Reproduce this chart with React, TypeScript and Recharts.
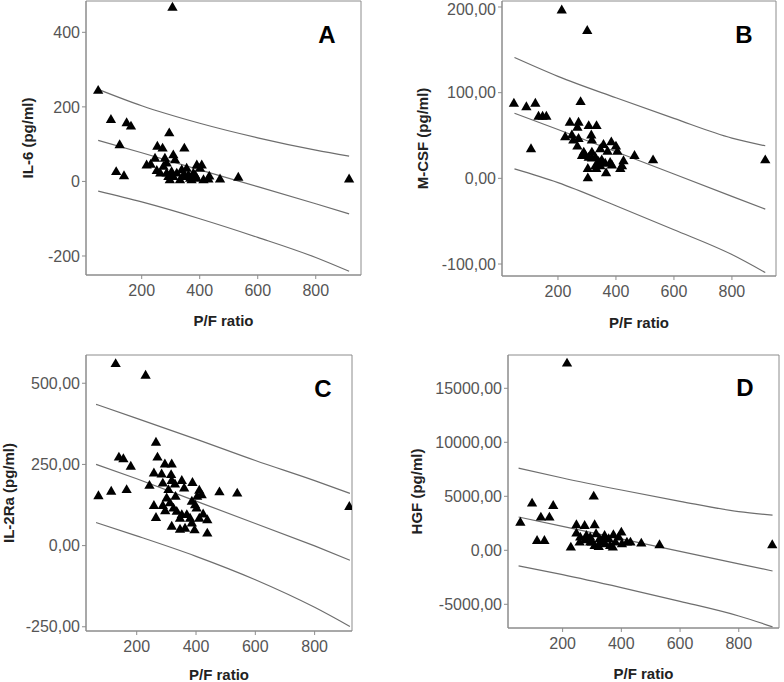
import { ComposedChart, Scatter, Line, XAxis, YAxis, ZAxis, ReferenceArea } from 'recharts';

const FONT = '"Liberation Sans", Arial, sans-serif';

// P/F ratio axis ticks, shared by all panels
const pfTicks = [200, 400, 600, 800];

// Panel A - IL-6
const aPF = [306, 50, 94, 148, 163, 124, 112, 139, 295, 254, 272, 347, 217, 231, 246, 280, 309, 315, 252, 275, 286, 292, 303, 321, 338, 355, 361, 378, 390, 407, 401, 332, 372, 390, 413, 430, 433, 470, 533, 915, 309, 344, 264, 286, 297, 350, 384, 367];
const aIL6 = [466, 243, 165, 156, 147, 97, 25, 14, 129, 93, 88, 88, 43, 45, 61, 61, 70, 57, 28, 39, 48, 12, 25, 21, 30, 34, 16, 21, 43, 43, 34, 3, 3, 7, 3, 5, 13, 5, 10, 5, 12, 16, 21, 21, 3, 12, 16, 7];
const aFitX = [50, 200, 400, 600, 800, 915];
const aUpper = [247, 203, 156, 117, 84, 68];
const aMid = [110, 77, 31, -14, -60, -87];
const aLower = [-26, -55, -100, -150, -204, -241];
const aTicks = [-200, 0, 200, 400];

// Panel B - M-CSF
const bPF = [213, 301, 48, 91, 122, 133, 147, 160, 107, 278, 241, 271, 267, 306, 333, 225, 248, 253, 271, 315, 317, 267, 283, 294, 306, 317, 329, 346, 357, 371, 384, 400, 405, 340, 351, 363, 380, 386, 303, 303, 332, 366, 329, 346, 415, 421, 426, 464, 528, 915, 317, 289];
const bMCSF = [196, 172, 87, 83, 87, 72, 72, 72, 34, 89, 65, 65, 59, 61, 61, 48, 50, 44, 46, 50, 44, 37, 26, 26, 24, 23, 24, 34, 39, 31, 42, 37, 31, 19, 21, 17, 18, 15, 11, 0, 11, 6, 14, 14, 11, 14, 20, 26, 21, 21, 30, 30];
const bFitX = [50, 200, 400, 600, 800, 915];
const bUpper = [141, 119, 94, 70, 47, 38];
const bMid = [76, 57, 31, 5, -21, -36];
const bLower = [11, -5, -32, -60, -89, -110];
const bTicks = [-100, 0, 100, 200];

// Panel C - IL-2Ra
const cPF = [129, 230, 71, 114, 140, 155, 180, 166, 265, 270, 258, 284, 295, 318, 243, 288, 316, 318, 329, 352, 360, 388, 411, 419, 404, 479, 539, 917, 258, 265, 288, 301, 312, 324, 331, 335, 318, 346, 363, 352, 369, 380, 386, 395, 386, 402, 411, 424, 438, 438, 346, 296, 397, 307];
const cIL2Ra = [559, 523, 152, 166, 271, 266, 243, 171, 317, 271, 222, 219, 250, 250, 184, 191, 217, 199, 188, 199, 176, 193, 169, 155, 150, 164, 160, 119, 122, 85, 122, 145, 130, 114, 150, 104, 58, 49, 52, 94, 94, 83, 68, 47, 135, 114, 83, 96, 78, 37, 83, 106, 124, 171];
const cFitX = [63, 200, 400, 600, 800, 919];
const cUpper = [435, 392, 328, 262, 200, 161];
const cMid = [250, 206, 137, 68, -1, -45];
const cLower = [71, 30, -33, -105, -190, -249];
const cTicks = [-250, 0, 250, 500];

// Panel D - HGF
const dPF = [215, 56, 96, 126, 155, 168, 113, 138, 306, 228, 247, 275, 309, 247, 260, 281, 294, 314, 326, 343, 357, 373, 400, 391, 258, 277, 300, 309, 328, 345, 362, 371, 380, 402, 419, 431, 468, 530, 914, 345, 294, 323];
const dHGF = [17284, 2560, 4321, 3025, 3025, 4105, 864, 864, 4969, 247, 2315, 2253, 2315, 1543, 1173, 1327, 1173, 1481, 1019, 1327, 1019, 1389, 1636, 1173, 710, 926, 710, 401, 710, 556, 401, 247, 710, 556, 710, 710, 617, 463, 463, 1019, 710, 309];
const dFitX = [50, 200, 400, 600, 800, 915];
const dUpper = [7608, 6694, 5583, 4536, 3580, 3256];
const dMid = [3086, 2219, 1063, -94, -1250, -1914];
const dLower = [-1436, -2256, -3457, -4724, -6080, -7084];
const dTicks = [-5000, 0, 5000, 10000, 15000];

const toPoints = (xs: number[], ys: number[]) => xs.map((x, i) => ({ x, y: ys[i] }));

const FRAME = '#8c8c8c';
const FIT = '#6e6e6e';

interface PanelProps {
    left: number;
    top: number;
    margin: { top: number; right: number; bottom: number; left: number };
    yWidth: number;
    xHeight: number;
    xDomain: [number, number];
    yDomain: [number, number];
    yTicks: number[];
    decimals: boolean;
    yLabel: string;
    yLabelOffset: number;
    letter: string;
    letterPos: [number, number];
    xs: number[];
    ys: number[];
    fitX: number[];
    upper: number[];
    mid: number[];
    lower: number[];
}

function Panel(p: PanelProps) {
    const tickStyle = { fill: '#555', fontSize: 16, fontFamily: FONT };
    const labelStyle = { fill: '#222', fontSize: 15, fontWeight: 700, fontFamily: FONT, textAnchor: 'middle' as const };
    const fmt = (v: number) => (p.decimals ? v.toFixed(2).replace('.', ',') : String(v));

    return (
        <div style={{ position: 'absolute', left: p.left, top: p.top, width: 392, height: 341 }}>
            <ComposedChart width={392} height={341} margin={p.margin}>
                <XAxis
                    type="number"
                    dataKey="x"
                    domain={p.xDomain}
                    allowDataOverflow
                    ticks={pfTicks}
                    height={p.xHeight}
                    tick={tickStyle}
                    tickSize={4}
                    tickMargin={6}
                    axisLine={{ stroke: FRAME }}
                    tickLine={{ stroke: FRAME }}
                    label={{ value: 'P/F ratio', position: 'insideBottom', offset: 0, style: labelStyle }}
                />
                <YAxis
                    type="number"
                    dataKey="y"
                    domain={p.yDomain}
                    allowDataOverflow
                    ticks={p.yTicks}
                    tickFormatter={fmt}
                    width={p.yWidth}
                    tick={tickStyle}
                    tickSize={4}
                    tickMargin={2}
                    axisLine={{ stroke: FRAME }}
                    tickLine={{ stroke: FRAME }}
                    label={{ value: p.yLabel, angle: -90, position: 'insideLeft', offset: p.yLabelOffset, style: labelStyle }}
                />
                <ZAxis range={[46, 46]} />
                {/* plot frame */}
                <ReferenceArea
                    x1={p.xDomain[0]}
                    x2={p.xDomain[1]}
                    y1={p.yDomain[0]}
                    y2={p.yDomain[1]}
                    fill="none"
                    fillOpacity={0}
                    stroke={FRAME}
                    strokeWidth={1}
                    ifOverflow="visible"
                />
                <Line data={toPoints(p.fitX, p.upper)} dataKey="y" type="monotone" stroke={FIT} strokeWidth={1.2} dot={false} isAnimationActive={false} />
                <Line data={toPoints(p.fitX, p.mid)} dataKey="y" type="linear" stroke={FIT} strokeWidth={1.2} dot={false} isAnimationActive={false} />
                <Line data={toPoints(p.fitX, p.lower)} dataKey="y" type="monotone" stroke={FIT} strokeWidth={1.2} dot={false} isAnimationActive={false} />
                <Scatter data={toPoints(p.xs, p.ys)} dataKey="y" shape="triangle" fill="#000" isAnimationActive={false} />
            </ComposedChart>
            <div
                style={{
                    position: 'absolute',
                    left: p.letterPos[0],
                    top: p.letterPos[1],
                    transform: 'translate(-50%, -50%)',
                    fontFamily: FONT,
                    fontWeight: 700,
                    fontSize: 24,
                    lineHeight: 1,
                    color: '#000',
                }}
            >
                {p.letter}
            </div>
        </div>
    );
}

export default function App() {
    return (
        <div style={{ position: 'absolute', left: 0, top: 0, width: 784, height: 682, background: '#fff' }}>
            <Panel
                left={0} top={0}
                margin={{ top: 1, right: 31, bottom: 15, left: 0 }}
                yWidth={86} xHeight={51}
                xDomain={[8, 956]} yDomain={[-251, 484]}
                yTicks={aTicks} decimals={false}
                yLabel="IL-6 (pg/ml)" yLabelOffset={28}
                letter="A" letterPos={[327, 35]}
                xs={aPF} ys={aIL6}
                fitX={aFitX} upper={aUpper} mid={aMid} lower={aLower}
            />
            <Panel
                left={392} top={0}
                margin={{ top: 1, right: 8, bottom: 13, left: 0 }}
                yWidth={110} xHeight={52}
                xDomain={[7, 952]} yDomain={[-114, 207]}
                yTicks={bTicks} decimals={true}
                yLabel="M-CSF (pg/ml)" yLabelOffset={31}
                letter="B" letterPos={[352, 35]}
                xs={bPF} ys={bMCSF}
                fitX={bFitX} upper={bUpper} mid={bMid} lower={bLower}
            />
            <Panel
                left={0} top={341}
                margin={{ top: 14, right: 40, bottom: 2, left: 0 }}
                yWidth={86} xHeight={49}
                xDomain={[29, 926]} yDomain={[-263, 587]}
                yTicks={cTicks} decimals={true}
                yLabel="IL-2Ra (pg/ml)" yLabelOffset={9}
                letter="C" letterPos={[323, 48]}
                xs={cPF} ys={cIL2Ra}
                fitX={cFitX} upper={cUpper} mid={cMid} lower={cLower}
            />
            <Panel
                left={392} top={341}
                margin={{ top: 14, right: 5, bottom: 3, left: 0 }}
                yWidth={116} xHeight={51}
                xDomain={[14, 937]} yDomain={[-7194, 18083]}
                yTicks={dTicks} decimals={true}
                yLabel="HGF (pg/ml)" yLabelOffset={25}
                letter="D" letterPos={[353, 47]}
                xs={dPF} ys={dHGF}
                fitX={dFitX} upper={dUpper} mid={dMid} lower={dLower}
            />
        </div>
    );
}
